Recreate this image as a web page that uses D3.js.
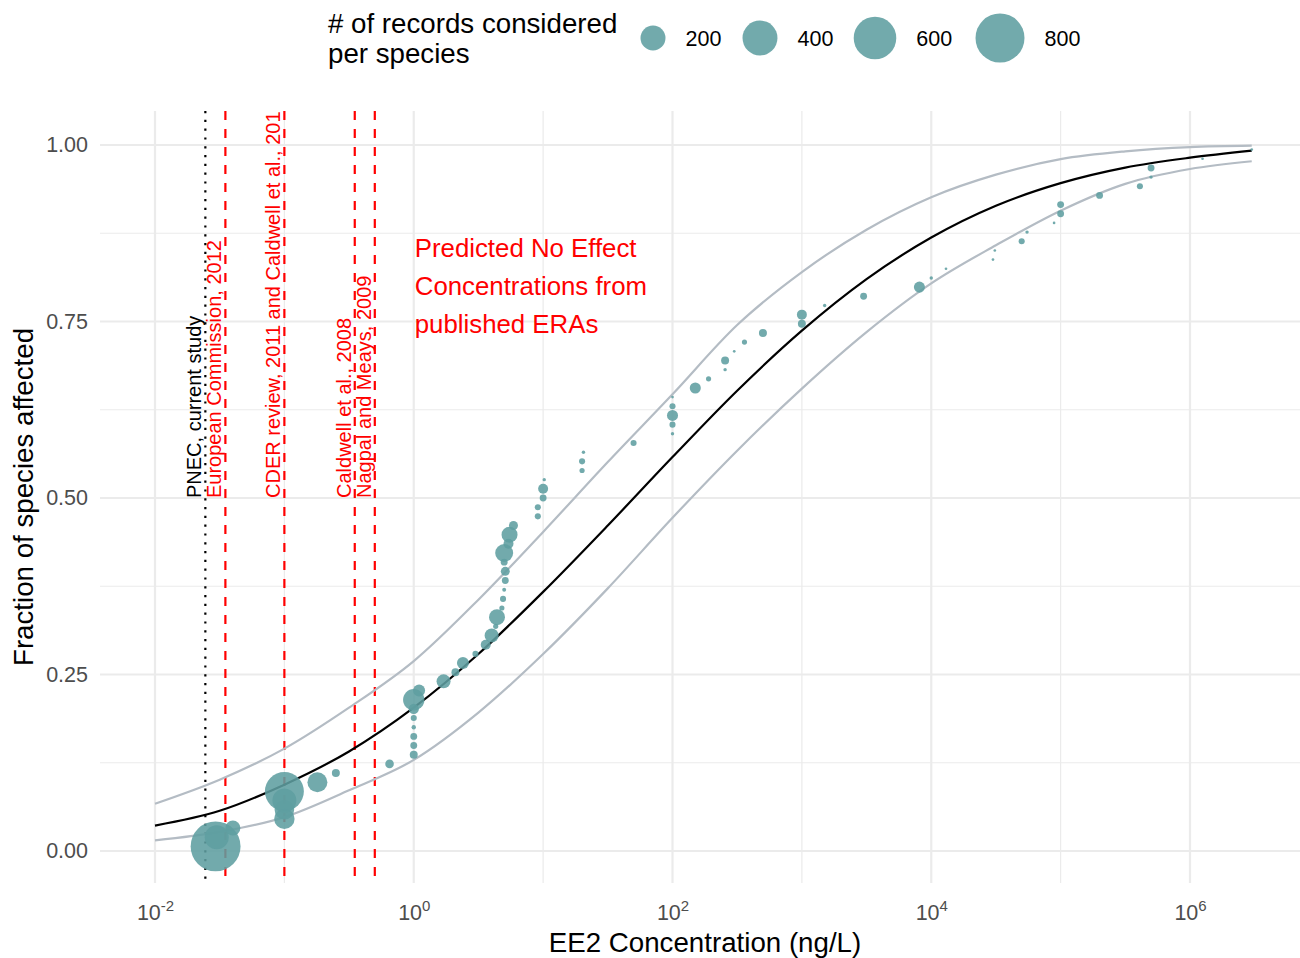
<!DOCTYPE html>
<html><head><meta charset="utf-8">
<script src="https://cdn.jsdelivr.net/npm/d3@7"></script>
<style>body{margin:0;background:#fff} text{font-family:"Liberation Sans",Arial,sans-serif}</style>
</head><body><svg id="c" width="1300" height="958"></svg>
<script>
// ---- data ----
const concentration = [0.0294,0.030,0.040,0.1,0.1,0.1,0.1,0.18,0.25,0.65,
  1,1,1,1,1,1,1,1.1,1.7,2.1,
  2.4,3.0,3.6,4.0,4.3,4.4,4.8,4.9,5.0,5.1,
  5.1,5.0,5.0,5.4,5.5,5.9,9.1,9.1,10,10,
  10.2,20,20,20.5,50,100,100,100,100,100,
  150,190,255,255,300,360,500,1000,1000,1500,
  3000,8100,10000,13000,30000,31000,50000,55000,89000,100000,
  100000,200000,410000,500000,500000,1250000,3000000];
const fraction = [0.0065,0.0195,0.0325,0.0455,0.0584,0.0714,0.0844,0.0974,0.1104,0.1234,
  0.1364,0.1494,0.1623,0.1753,0.1883,0.2013,0.2143,0.2273,0.2403,0.2532,
  0.2662,0.2792,0.2922,0.3052,0.3182,0.3312,0.3442,0.3571,0.3701,0.3831,
  0.3961,0.4091,0.4221,0.4351,0.4481,0.4610,0.4740,0.4870,0.5,0.5130,
  0.5260,0.5390,0.5519,0.5649,0.5779,0.5909,0.6039,0.6169,0.6299,0.6429,
  0.6558,0.6688,0.6818,0.6948,0.7078,0.7208,0.7338,0.7468,0.7597,0.7727,
  0.7857,0.7987,0.8117,0.8247,0.8377,0.8506,0.8636,0.8766,0.8896,0.9026,
  0.9156,0.9286,0.9416,0.9545,0.9675,0.9805,0.9935];
const records = [830,184,68,130,120,184,500,125,17,20,
  17,12,12,4,9,30,144,42,59,17,
  42,9,28,59,6,78,6,9,3,12,
  22,12,100,28,78,22,9,9,12,28,
  2,6,9,2,9,2,9,35,9,1,
  35,6,2,17,1,6,17,17,28,2,
  12,35,2,1,1,1,9,2,1,12,
  12,12,9,2,12,1,1];

const curveConc = [0.01,0.0316,0.1,0.316,1,3.16,10,31.6,100,316,1000,3160,10000,31600,100000,316000,1000000,3000000];
const fitMedian = [0.036,0.057,0.094,0.141,0.203,0.279,0.367,0.461,0.558,0.652,0.737,0.810,0.869,0.914,0.946,0.968,0.982,0.992];
const fitUpper  = [0.067,0.101,0.145,0.203,0.269,0.356,0.452,0.551,0.647,0.745,0.820,0.880,0.926,0.958,0.980,0.991,0.997,0.999];
const fitLower  = [0.015,0.027,0.048,0.086,0.129,0.196,0.279,0.372,0.472,0.567,0.655,0.735,0.804,0.858,0.907,0.945,0.966,0.977];

const pnecValues = [0.0245,0.035,0.1,0.35,0.5];
const pnecLabels = ["PNEC, current study","European Commission, 2012","CDER review, 2011 and Caldwell et al., 2012","Caldwell et al., 2008","Nagpal and Meays, 2009"];
const annotationLines = ["Predicted No Effect","Concentrations from","published ERAs"];

const xTicks = [1e-2,1,1e2,1e4,1e6];
const xTickExp = ["-2","0","2","4","6"];
const xMinor = [1e-1,1e1,1e3,1e5];
const yTicks = [0,0.25,0.5,0.75,1];
const yMinor = [0.125,0.375,0.625,0.875];
const legendBreaks = [200,400,600,800];

// ---- layout ----
const svg = d3.select("#c");
svg.append("rect").attr("width",1300).attr("height",958).attr("fill","#fff");
const P = {l:100, r:1310, t:111, b:883};
const xs = d3.scaleLog().domain([1e-2,1e6]).range([155,1190]);
const ys = d3.scaleLinear().domain([0,1]).range([851,145]);
const rs = d3.scaleSqrt().domain([0,800]).range([0.5,24.5]);

svg.append("clipPath").attr("id","pc").append("rect")
  .attr("x",P.l).attr("y",P.t).attr("width",P.r-P.l).attr("height",P.b-P.t);

const grid = svg.append("g");
grid.selectAll(".ymn").data(yMinor).join("line")
  .attr("x1",P.l).attr("x2",P.r).attr("y1",d=>ys(d)).attr("y2",d=>ys(d))
  .attr("stroke","#ebebeb").attr("stroke-width",1.2);
grid.selectAll(".xmn").data(xMinor).join("line")
  .attr("y1",P.t).attr("y2",P.b).attr("x1",d=>xs(d)).attr("x2",d=>xs(d))
  .attr("stroke","#ebebeb").attr("stroke-width",1.2);
grid.selectAll(".ymj").data(yTicks).join("line")
  .attr("x1",P.l).attr("x2",P.r).attr("y1",d=>ys(d)).attr("y2",d=>ys(d))
  .attr("stroke","#ebebeb").attr("stroke-width",2.2);
grid.selectAll(".xmj").data(xTicks).join("line")
  .attr("y1",P.t).attr("y2",P.b).attr("x1",d=>xs(d)).attr("x2",d=>xs(d))
  .attr("stroke","#ebebeb").attr("stroke-width",2.2);

const panel = svg.append("g").attr("clip-path","url(#pc)");

// vertical PNEC lines
panel.selectAll(".vl").data(pnecValues).join("line")
  .attr("x1",d=>xs(d)).attr("x2",d=>xs(d)).attr("y1",P.t).attr("y2",P.b)
  .attr("stroke",(d,i)=>i===0?"#000":"#ff0000")
  .attr("stroke-width",2.2)
  .attr("stroke-dasharray",(d,i)=>i===0?"2.2,6.6":"9,9");

// curves
const line = arr => d3.line().x((d,i)=>xs(curveConc[i])).y(d=>ys(d)).curve(d3.curveMonotoneX)(arr);
panel.append("path").attr("d",line(fitUpper)).attr("fill","none").attr("stroke","#b4bcc4").attr("stroke-width",2.2);
panel.append("path").attr("d",line(fitLower)).attr("fill","none").attr("stroke","#b4bcc4").attr("stroke-width",2.2);
panel.append("path").attr("d",line(fitMedian)).attr("fill","none").attr("stroke","#000").attr("stroke-width",2.2);

// points
const pts = concentration.map((c,i)=>({c, f:fraction[i], n:records[i]}));
panel.selectAll(".pt").data(pts).join("circle")
  .attr("cx",d=>xs(d.c)).attr("cy",d=>ys(d.f)).attr("r",d=>rs(d.n))
  .attr("fill","#5f9ea0").attr("fill-opacity",0.88);

// PNEC labels
panel.selectAll(".vt").data(pnecValues).join("text")
  .attr("transform",d=>`translate(${xs(d)-4},${ys(0.5)}) rotate(-90)`)
  .attr("font-size",20).attr("fill",(d,i)=>i===0?"#000":"#ff0000")
  .text((d,i)=>pnecLabels[i]);

// annotation
const ann = panel.append("text").attr("x",xs(1)+1).attr("y",ys(0.841)).attr("font-size",25.8).attr("fill","#ff0000");
annotationLines.forEach((t,i)=>ann.append("tspan").attr("x",xs(1)+1).attr("dy",i===0?0:38).text(t));

// axes
const yAx = svg.append("g").attr("transform",`translate(${P.l-5},0)`)
  .call(d3.axisLeft(ys).tickValues(yTicks).tickSize(0).tickPadding(7).tickFormat(d3.format(".2f")));
yAx.select(".domain").remove();
yAx.selectAll("text").attr("font-size",21.5).attr("fill","#4d4d4d").attr("font-family","Liberation Sans, Arial, sans-serif");

const xAx = svg.append("g").attr("transform",`translate(0,${P.b})`)
  .call(d3.axisBottom(xs).tickValues(xTicks).tickSize(0).tickPadding(0).tickFormat(()=>""));
xAx.select(".domain").remove();
xAx.selectAll(".tick text").each(function(d,i){
  const t = d3.select(this).attr("y",37).attr("dy",null).attr("font-size",21.5).attr("fill","#4d4d4d")
    .attr("font-family","Liberation Sans, Arial, sans-serif");
  t.append("tspan").text("10");
  t.append("tspan").attr("dy",-9).attr("font-size",15).text(xTickExp[i]);
});

svg.append("text").attr("x",705).attr("y",952).attr("text-anchor","middle").attr("font-size",27.7)
  .text("EE2 Concentration (ng/L)");
svg.append("text").attr("transform",`translate(33,${(P.t+P.b)/2}) rotate(-90)`).attr("text-anchor","middle").attr("font-size",27.7)
  .text("Fraction of species affected");

// legend
const lg = svg.append("g");
lg.append("text").attr("x",328).attr("y",33).attr("font-size",27.7).text("# of records considered");
lg.append("text").attr("x",328).attr("y",63).attr("font-size",27.7).text("per species");
const keyX = [653,760,875,1000];
legendBreaks.forEach((b,i)=>{
  lg.append("circle").attr("cx",keyX[i]).attr("cy",38).attr("r",rs(b)).attr("fill","#5f9ea0").attr("fill-opacity",0.88);
  lg.append("text").attr("x",keyX[i]+rs(b)+20).attr("y",46).attr("font-size",21.5).text(b);
});
</script></body></html>
